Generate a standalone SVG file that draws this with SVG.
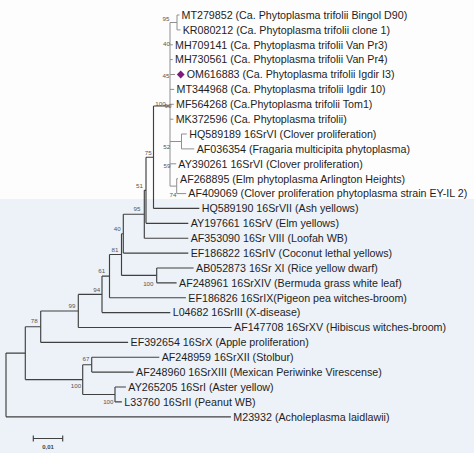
<svg xmlns="http://www.w3.org/2000/svg" width="474" height="453" viewBox="0 0 474 453">
<style>
.bg1{fill:#fdfdfd}
.bg2{fill:#edf2f8}
.br{fill:none;stroke:#404040;stroke-width:1.15}
.brl{fill:none;stroke:#8f8f8f;stroke-width:1}
.lf{font-family:"Liberation Sans",Arial,sans-serif;font-size:10.7px;fill:#1e1e1e}
.bs{font-family:"Liberation Sans",Arial,sans-serif;font-size:6.2px;fill:#555;text-anchor:middle}
.sc{font-family:"Liberation Sans",Arial,sans-serif;font-size:6px;font-weight:bold;fill:#444;text-anchor:middle}
</style>
<rect class="bg1" x="0" y="0" width="474" height="199"/>
<rect class="bg2" x="0" y="199" width="474" height="254"/>
<g id="connectors">
<path class="brl" d="M170,22.5V186.1M170,22.5H177M177,15V29.9M177,15H179.5M177,29.9H180.5M170,44.8H172.8M170,59.6H172.8M170,74.5H175M170,89.4H174.2M170,104.3H173.8M170,119.2H173.4M170,141.5H181.5M181.5,134V148.9M181.5,134H186.8M181.5,148.9H194.2M170,163.8H176.2M170,186.1H176.7M176.7,178.7V193.6M176.7,178.7H178M176.7,193.6H186.2"/>
<path class="br" d="M153.5,106H170M153.5,106V208.4M153.5,208.4H199.3"/>
<path class="br" d="M146,157.2H153.5M146,157.2V223.3M146,223.3H188.3"/>
<path class="br" d="M144.3,190.3H146M144.3,190.3V238.2M144.3,238.2H188.3"/>
<path class="br" d="M123.3,214.2H144.3M123.3,214.2V253.1M123.3,253.1H188.3"/>
<path class="br" d="M121.5,233.7H123.3M121.5,233.7V275.4M121.5,275.4H156.7"/>
<path class="br" d="M156.7,268V282.8M156.7,268H193.6M156.7,282.8H176.6"/>
<path class="br" d="M109.5,254.5H121.5M109.5,254.5V297.7M109.5,297.7H185.9"/>
<path class="br" d="M102,276.1H109.5M102,276.1V312.6M102,312.6H170.3"/>
<path class="br" d="M78.3,294.4H102M78.3,294.4V327.5M78.3,327.5H231.6"/>
<path class="br" d="M40.7,311H78.3M40.7,311V342.4M40.7,342.4H128.1"/>
<path class="br" d="M91.7,357.2V372.1M91.7,357.2H159.3M91.7,372.1H133.6"/>
<path class="br" d="M115,387V401.9M115,387H125.9M115,401.9H121.9"/>
<path class="br" d="M82.7,364.7H91.7M82.7,364.7V394.5M82.7,394.5H115"/>
<path class="br" d="M25.3,326.7H40.7M25.3,326.7V379.6M25.3,379.6H82.7"/>
<path class="br" d="M6,353.1H25.3M6,353.1V416.8M6,416.8H230.9"/>
</g>
<g id="leaf-MT279852"><text class="lf" x="181.5" y="18.8">MT279852 (Ca. Phytoplasma trifolii Bingol D90)</text></g>
<g id="leaf-KR080212"><text class="lf" x="182.7" y="33.7">KR080212 (Ca. Phytoplasma trifolii clone 1)</text></g>
<g id="leaf-MH709141"><text class="lf" x="175" y="48.6">MH709141 (Ca. Phytoplasma trifolii Van Pr3)</text></g>
<g id="leaf-MH730561"><text class="lf" x="175" y="63.4">MH730561 (Ca. Phytoplasma trifolii Van Pr4)</text></g>
<g id="leaf-OM616883"><path d="M180.7,70.4L184.6,74.5L180.7,78.6L176.8,74.5Z" fill="#7d1a7e"/><text class="lf" x="186.7" y="78.3">OM616883 (Ca. Phytoplasma trifolii Igdir I3)</text></g>
<g id="leaf-MT344968"><text class="lf" x="176.5" y="93.2">MT344968 (Ca. Phytoplasma trifolii Igdir 10)</text></g>
<g id="leaf-MF564268"><text class="lf" x="176" y="108.1">MF564268 (Ca.Phytoplasma trifolii Tom1)</text></g>
<g id="leaf-MK372596"><text class="lf" x="175.7" y="123">MK372596 (Ca. Phytoplasma trifolii)</text></g>
<g id="leaf-HQ589189"><text class="lf" x="189.3" y="137.8">HQ589189 16SrVI (Clover proliferation)</text></g>
<g id="leaf-AF036354"><text class="lf" x="196.7" y="152.7">AF036354 (Fragaria multicipita phytoplasma)</text></g>
<g id="leaf-AY390261"><text class="lf" x="178.3" y="167.6">AY390261 16SrVI (Clover proliferation)</text></g>
<g id="leaf-AF268895"><text class="lf" x="180" y="182.5">AF268895 (Elm phytoplasma Arlington Heights)</text></g>
<g id="leaf-AF409069"><text class="lf" x="188.3" y="197.4">AF409069 (Clover proliferation phytoplasma strain EY-IL 2)</text></g>
<g id="leaf-HQ589190"><text class="lf" x="201.7" y="212.2">HQ589190 16SrVII (Ash yellows)</text></g>
<g id="leaf-AY197661"><text class="lf" x="190.7" y="227.1">AY197661 16SrV (Elm yellows)</text></g>
<g id="leaf-AF353090"><text class="lf" x="190.7" y="242">AF353090 16Sr VIII (Loofah WB)</text></g>
<g id="leaf-EF186822"><text class="lf" x="190.7" y="256.9">EF186822 16SrIV (Coconut lethal yellows)</text></g>
<g id="leaf-AB052873"><text class="lf" x="196" y="271.8">AB052873 16Sr XI (Rice yellow dwarf)</text></g>
<g id="leaf-AF248961"><text class="lf" x="179" y="286.6">AF248961 16SrXIV (Bermuda grass white leaf)</text></g>
<g id="leaf-EF186826"><text class="lf" x="188.3" y="301.5">EF186826 16SrIX(Pigeon pea witches-broom)</text></g>
<g id="leaf-L04682"><text class="lf" x="172.7" y="316.4">L04682 16SrIII (X-disease)</text></g>
<g id="leaf-AF147708"><text class="lf" x="234" y="331.3">AF147708 16SrXV (Hibiscus witches-broom)</text></g>
<g id="leaf-EF392654"><text class="lf" x="130.5" y="346.2">EF392654 16SrX (Apple proliferation)</text></g>
<g id="leaf-AF248959"><text class="lf" x="161.7" y="361">AF248959 16SrXII (Stolbur)</text></g>
<g id="leaf-AF248960"><text class="lf" x="136" y="375.9">AF248960 16SrXIII (Mexican Periwinke Virescense)</text></g>
<g id="leaf-AY265205"><text class="lf" x="128.3" y="390.8">AY265205 16SrI (Aster yellow)</text></g>
<g id="leaf-L33760"><text class="lf" x="124.3" y="405.7">L33760 16SrII (Peanut WB)</text></g>
<g id="leaf-M23932"><text class="lf" x="233.3" y="420.6">M23932 (Acholeplasma laidlawii)</text></g>
<g id="node-b95a"><text class="bs" x="166" y="21">95</text></g>
<g id="node-b40a"><text class="bs" x="166.5" y="46">40</text></g>
<g id="node-b45"><text class="bs" x="166" y="77.5">45</text></g>
<g id="node-b100a"><text class="bs" x="160.5" y="105.5">100</text></g>
<g id="node-b90"><text class="bs" x="168" y="107.5">90</text></g>
<g id="node-b52"><text class="bs" x="166.7" y="149">52</text></g>
<g id="node-b59"><text class="bs" x="167" y="168">59</text></g>
<g id="node-b74"><text class="bs" x="173" y="197">74</text></g>
<g id="node-b75"><text class="bs" x="148.3" y="155">75</text></g>
<g id="node-b51"><text class="bs" x="139.5" y="187.5">51</text></g>
<g id="node-b95b"><text class="bs" x="137" y="210.5">95</text></g>
<g id="node-b40b"><text class="bs" x="117.3" y="231">40</text></g>
<g id="node-b81"><text class="bs" x="115" y="251.5">81</text></g>
<g id="node-b100b"><text class="bs" x="148.3" y="286">100</text></g>
<g id="node-b61"><text class="bs" x="101.7" y="273">61</text></g>
<g id="node-b94"><text class="bs" x="96.7" y="291.5">94</text></g>
<g id="node-b99"><text class="bs" x="72" y="308">99</text></g>
<g id="node-b78"><text class="bs" x="34.3" y="323">78</text></g>
<g id="node-b67"><text class="bs" x="86" y="361">67</text></g>
<g id="node-b100c"><text class="bs" x="76" y="388">100</text></g>
<g id="node-b100d"><text class="bs" x="108.3" y="404">100</text></g>
<g id="scale-bar">
<path class="br" d="M33.3,438.5H62.7M33.3,435.5V441.5M62.7,435.5V441.5"/>
<text class="sc" x="48" y="449">0,01</text>
</g>
</svg>
